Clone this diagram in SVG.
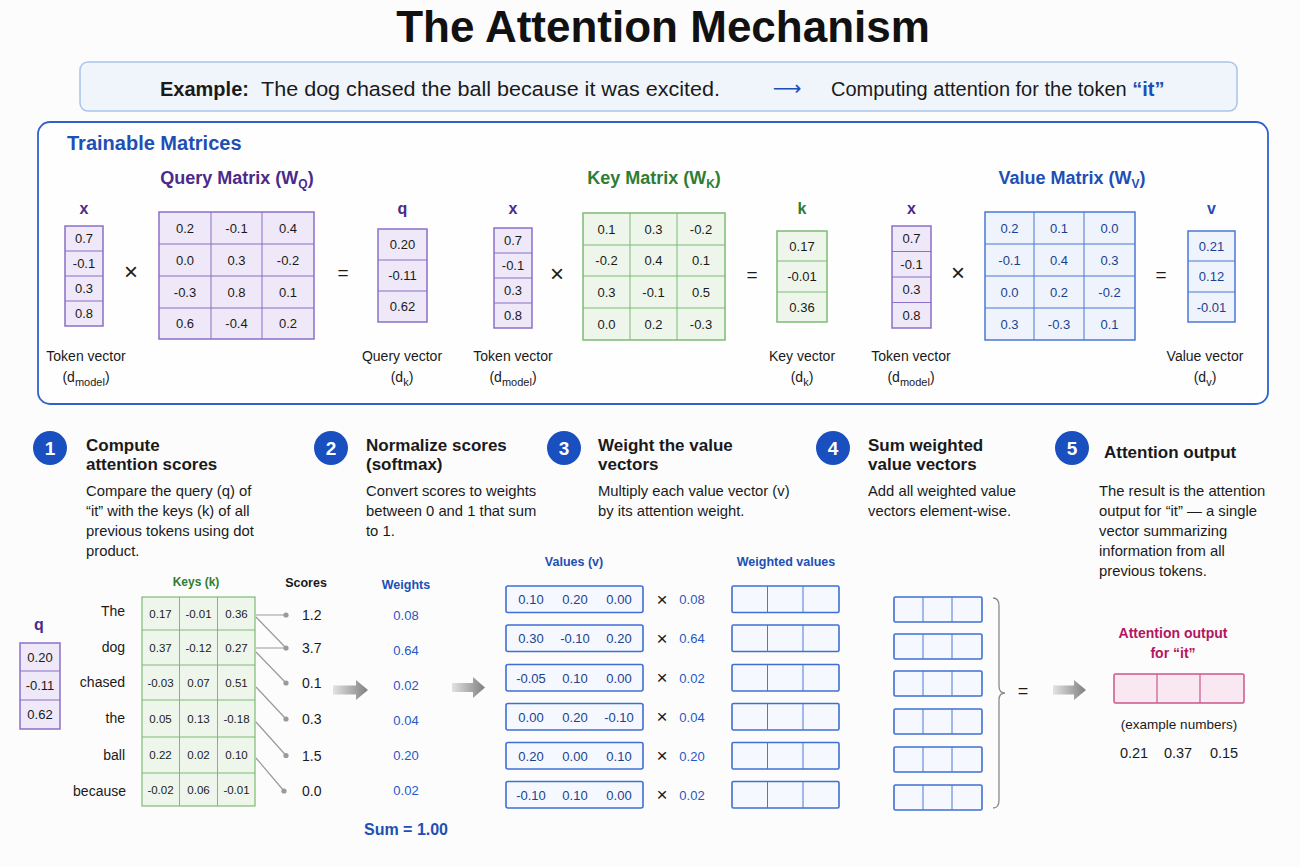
<svg xmlns="http://www.w3.org/2000/svg" width="1300" height="867" viewBox="0 0 1300 867">
<defs>
<linearGradient id="ga" x1="0" y1="0" x2="1" y2="0">
<stop offset="0" stop-color="#e2e2e2"/>
<stop offset="1" stop-color="#7f7f7f"/>
</linearGradient>
</defs>
<style>
text{font-family:"Liberation Sans",Arial,sans-serif;fill:#1a1a1a}
.c{text-anchor:middle}
.num{font-size:13px}
.sm{font-size:11.5px}
.pur{fill:#4b2a8c}
.grn{fill:#2e7d32}
.blu{fill:#1d4fb5}
.mag{fill:#b3165f}
.b{font-weight:bold}
.pbox{fill:#eee8f8;stroke:#8b6fc7;stroke-width:1.5}
.pl{stroke:#8b6fc7;stroke-width:1}
.gbox{fill:#eef6eb;stroke:#7dbb74;stroke-width:1.5}
.gl{stroke:#7dbb74;stroke-width:1}
.bbox{fill:#eef3fc;stroke:#4a78d6;stroke-width:1.5}
.bl{stroke:#4a78d6;stroke-width:1}
.vrow{fill:#f5f8fe;stroke:#3f6fd3;stroke-width:1.6}
.mbox{fill:#f9e8f1;stroke:#c9578b;stroke-width:1.5}
.ml{stroke:#c9578b;stroke-width:1.2}
.lab{font-size:14px}
.op{font-size:19px}
.mul{font-size:24px}
.st{font-size:17px;font-weight:bold}
.ds{font-size:14.8px}
.circ{fill:#1a4fc0}
.cn{fill:#fff;font-size:19px;font-weight:bold;text-anchor:middle}
.wt{fill:#2458c6;font-size:13px}
.conn{stroke:#9a9a9a;stroke-width:1.2;fill:none}
.dot{fill:#9a9a9a}
.vt{fill:#1d3f8f}
</style>
<rect width="1300" height="867" fill="#fcfcfd"/>

<g id="title">
<text x="663" y="42" class="c b" style="font-size:44px;fill:#111">The Attention Mechanism</text>
</g>

<g id="example">
<rect x="80" y="62" width="1157" height="49" rx="8" fill="#f0f5fb" stroke="#a9c3ea" stroke-width="1.5"/>
<text x="160" y="96" style="font-size:20px"><tspan class="b">Example:</tspan></text>
<text x="261" y="96" style="font-size:20.5px" textLength="459" lengthAdjust="spacingAndGlyphs">The dog chased the ball because it was excited.</text>
<text x="787" y="95" class="c" style="font-size:20px;fill:#1d4fb5;font-family:'DejaVu Sans',sans-serif">⟶</text>
<text x="831" y="96" style="font-size:20px">Computing attention for the token <tspan class="b" style="fill:#1d4fb5">“it”</tspan></text>
</g>

<g id="trainable">
<rect x="38" y="122" width="1230" height="282" rx="12" fill="#fefeff" stroke="#2f62d0" stroke-width="1.8"/>
<text x="67" y="150" class="b blu" style="font-size:20px">Trainable Matrices</text>
</g>

<g id="query">
<text x="237" y="184" class="c b pur" style="font-size:18px">Query Matrix (W<tspan dy="4" style="font-size:12px">Q</tspan><tspan dy="-4">)</tspan></text>
<text x="84" y="214" class="c b pur" style="font-size:16px">x</text>
<rect x="65" y="226" width="38" height="100" class="pbox"/>
<line x1="65" y1="251" x2="103" y2="251" class="pl"/><line x1="65" y1="276" x2="103" y2="276" class="pl"/><line x1="65" y1="301" x2="103" y2="301" class="pl"/>
<text x="84" y="243" class="c num">0.7</text><text x="84" y="268" class="c num">-0.1</text><text x="84" y="293" class="c num">0.3</text><text x="84" y="318" class="c num">0.8</text>
<text x="131" y="280" class="c mul">×</text>
<rect x="159" y="212" width="155" height="127" class="pbox"/>
<line x1="211" y1="212" x2="211" y2="339" class="pl"/><line x1="262" y1="212" x2="262" y2="339" class="pl"/>
<line x1="159" y1="244" x2="314" y2="244" class="pl"/><line x1="159" y1="276" x2="314" y2="276" class="pl"/><line x1="159" y1="308" x2="314" y2="308" class="pl"/>
<text x="185" y="232.5" class="c num">0.2</text><text x="236.5" y="232.5" class="c num">-0.1</text><text x="288" y="232.5" class="c num">0.4</text>
<text x="185" y="264.5" class="c num">0.0</text><text x="236.5" y="264.5" class="c num">0.3</text><text x="288" y="264.5" class="c num">-0.2</text>
<text x="185" y="296.5" class="c num">-0.3</text><text x="236.5" y="296.5" class="c num">0.8</text><text x="288" y="296.5" class="c num">0.1</text>
<text x="185" y="328" class="c num">0.6</text><text x="236.5" y="328" class="c num">-0.4</text><text x="288" y="328" class="c num">0.2</text>
<text x="343" y="279" class="c op">=</text>
<text x="402.5" y="214" class="c b pur" style="font-size:16px">q</text>
<rect x="378" y="229" width="49" height="93" class="pbox"/>
<line x1="378" y1="260" x2="427" y2="260" class="pl"/><line x1="378" y1="291" x2="427" y2="291" class="pl"/>
<text x="402.5" y="249" class="c num">0.20</text><text x="402.5" y="280" class="c num">-0.11</text><text x="402.5" y="311" class="c num">0.62</text>
<text x="86" y="361" class="c lab">Token vector</text>
<text x="86" y="382" class="c lab">(d<tspan dy="4" style="font-size:11px">model</tspan><tspan dy="-4">)</tspan></text>
<text x="402" y="361" class="c lab">Query vector</text>
<text x="402" y="382" class="c lab">(d<tspan dy="4" style="font-size:11px">k</tspan><tspan dy="-4">)</tspan></text>
</g>

<g id="key">
<text x="654" y="184" class="c b grn" style="font-size:18px">Key Matrix (W<tspan dy="4" style="font-size:12px">K</tspan><tspan dy="-4">)</tspan></text>
<text x="513" y="214" class="c b pur" style="font-size:16px">x</text>
<rect x="494" y="228" width="38" height="100" class="pbox"/>
<line x1="494" y1="253" x2="532" y2="253" class="pl"/><line x1="494" y1="278" x2="532" y2="278" class="pl"/><line x1="494" y1="303" x2="532" y2="303" class="pl"/>
<text x="513" y="245" class="c num">0.7</text><text x="513" y="270" class="c num">-0.1</text><text x="513" y="295" class="c num">0.3</text><text x="513" y="320" class="c num">0.8</text>
<text x="557" y="282" class="c mul">×</text>
<rect x="583" y="213" width="142" height="127" class="gbox"/>
<line x1="630" y1="213" x2="630" y2="340" class="gl"/><line x1="677" y1="213" x2="677" y2="340" class="gl"/>
<line x1="583" y1="245" x2="725" y2="245" class="gl"/><line x1="583" y1="276" x2="725" y2="276" class="gl"/><line x1="583" y1="308" x2="725" y2="308" class="gl"/>
<text x="606.5" y="233.5" class="c num">0.1</text><text x="653.5" y="233.5" class="c num">0.3</text><text x="701" y="233.5" class="c num">-0.2</text>
<text x="606.5" y="265" class="c num">-0.2</text><text x="653.5" y="265" class="c num">0.4</text><text x="701" y="265" class="c num">0.1</text>
<text x="606.5" y="296.5" class="c num">0.3</text><text x="653.5" y="296.5" class="c num">-0.1</text><text x="701" y="296.5" class="c num">0.5</text>
<text x="606.5" y="328.5" class="c num">0.0</text><text x="653.5" y="328.5" class="c num">0.2</text><text x="701" y="328.5" class="c num">-0.3</text>
<text x="752" y="281" class="c op">=</text>
<text x="802" y="214" class="c b grn" style="font-size:16px">k</text>
<rect x="777" y="231" width="50" height="91" class="gbox"/>
<line x1="777" y1="261" x2="827" y2="261" class="gl"/><line x1="777" y1="292" x2="827" y2="292" class="gl"/>
<text x="802" y="250.5" class="c num">0.17</text><text x="802" y="281" class="c num">-0.01</text><text x="802" y="311.5" class="c num">0.36</text>
<text x="513" y="361" class="c lab">Token vector</text>
<text x="513" y="382" class="c lab">(d<tspan dy="4" style="font-size:11px">model</tspan><tspan dy="-4">)</tspan></text>
<text x="802" y="361" class="c lab">Key vector</text>
<text x="802" y="382" class="c lab">(d<tspan dy="4" style="font-size:11px">k</tspan><tspan dy="-4">)</tspan></text>
</g>

<g id="value">
<text x="1072" y="184" class="c b blu" style="font-size:18px">Value Matrix (W<tspan dy="4" style="font-size:12px">V</tspan><tspan dy="-4">)</tspan></text>
<text x="911.5" y="214" class="c b pur" style="font-size:16px">x</text>
<rect x="892" y="226" width="39" height="102" class="pbox"/>
<line x1="892" y1="251.5" x2="931" y2="251.5" class="pl"/><line x1="892" y1="277" x2="931" y2="277" class="pl"/><line x1="892" y1="302.5" x2="931" y2="302.5" class="pl"/>
<text x="911.5" y="243" class="c num">0.7</text><text x="911.5" y="268.5" class="c num">-0.1</text><text x="911.5" y="294" class="c num">0.3</text><text x="911.5" y="319.5" class="c num">0.8</text>
<text x="958" y="281" class="c mul">×</text>
<rect x="985" y="212" width="150" height="128" class="bbox"/>
<line x1="1034" y1="212" x2="1034" y2="340" class="bl"/><line x1="1084" y1="212" x2="1084" y2="340" class="bl"/>
<line x1="985" y1="244" x2="1135" y2="244" class="bl"/><line x1="985" y1="276" x2="1135" y2="276" class="bl"/><line x1="985" y1="308" x2="1135" y2="308" class="bl"/>
<text x="1009.5" y="232.5" class="c num vt">0.2</text><text x="1059" y="232.5" class="c num vt">0.1</text><text x="1109.5" y="232.5" class="c num vt">0.0</text>
<text x="1009.5" y="264.5" class="c num vt">-0.1</text><text x="1059" y="264.5" class="c num vt">0.4</text><text x="1109.5" y="264.5" class="c num vt">0.3</text>
<text x="1009.5" y="296.5" class="c num vt">0.0</text><text x="1059" y="296.5" class="c num vt">0.2</text><text x="1109.5" y="296.5" class="c num vt">-0.2</text>
<text x="1009.5" y="328.5" class="c num vt">0.3</text><text x="1059" y="328.5" class="c num vt">-0.3</text><text x="1109.5" y="328.5" class="c num vt">0.1</text>
<text x="1161" y="281" class="c op">=</text>
<text x="1211.5" y="214" class="c b blu" style="font-size:16px">v</text>
<rect x="1188" y="231" width="47" height="91" class="bbox"/>
<line x1="1188" y1="261" x2="1235" y2="261" class="bl"/><line x1="1188" y1="292" x2="1235" y2="292" class="bl"/>
<text x="1211.5" y="250.5" class="c num vt">0.21</text><text x="1211.5" y="281" class="c num vt">0.12</text><text x="1211.5" y="311.5" class="c num vt">-0.01</text>
<text x="911" y="361" class="c lab">Token vector</text>
<text x="911" y="382" class="c lab">(d<tspan dy="4" style="font-size:11px">model</tspan><tspan dy="-4">)</tspan></text>
<text x="1205" y="361" class="c lab">Value vector</text>
<text x="1205" y="382" class="c lab">(d<tspan dy="4" style="font-size:11px">v</tspan><tspan dy="-4">)</tspan></text>
</g>

<g id="step1">
<circle cx="50" cy="448" r="17" class="circ"/><text x="50" y="455" class="cn">1</text>
<text x="86" y="451" class="st">Compute</text>
<text x="86" y="470" class="st">attention scores</text>
<text x="86" y="496" class="ds">Compare the query (q) of</text>
<text x="86" y="516" class="ds">“it” with the keys (k) of all</text>
<text x="86" y="536" class="ds">previous tokens using dot</text>
<text x="86" y="556" class="ds">product.</text>
</g>

<g id="step2">
<circle cx="331" cy="448" r="17" class="circ"/><text x="331" y="455" class="cn">2</text>
<text x="366" y="451" class="st">Normalize scores</text>
<text x="366" y="470" class="st">(softmax)</text>
<text x="366" y="496" class="ds">Convert scores to weights</text>
<text x="366" y="516" class="ds">between 0 and 1 that sum</text>
<text x="366" y="536" class="ds">to 1.</text>
</g>

<g id="step3">
<circle cx="564" cy="448" r="17" class="circ"/><text x="564" y="455" class="cn">3</text>
<text x="598" y="451" class="st">Weight the value</text>
<text x="598" y="470" class="st">vectors</text>
<text x="598" y="496" class="ds">Multiply each value vector (v)</text>
<text x="598" y="516" class="ds">by its attention weight.</text>
</g>

<g id="step4">
<circle cx="833" cy="448" r="17" class="circ"/><text x="833" y="455" class="cn">4</text>
<text x="868" y="451" class="st">Sum weighted</text>
<text x="868" y="470" class="st">value vectors</text>
<text x="868" y="496" class="ds">Add all weighted value</text>
<text x="868" y="516" class="ds">vectors element-wise.</text>
</g>

<g id="step5">
<circle cx="1072" cy="448" r="17" class="circ"/><text x="1072" y="455" class="cn">5</text>
<text x="1104" y="458" class="st">Attention output</text>
<text x="1099" y="496" class="ds">The result is the attention</text>
<text x="1099" y="516" class="ds">output for “it” — a single</text>
<text x="1099" y="536" class="ds">vector summarizing</text>
<text x="1099" y="556" class="ds">information from all</text>
<text x="1099" y="576" class="ds">previous tokens.</text>
</g>

<g id="query-vector">
<text x="39" y="630" class="c b pur" style="font-size:16px">q</text>
<rect x="20" y="643" width="40" height="86" class="pbox"/>
<line x1="20" y1="671" x2="60" y2="671" class="pl"/><line x1="20" y1="700" x2="60" y2="700" class="pl"/>
<text x="40" y="661.5" class="c num">0.20</text><text x="40" y="690" class="c num">-0.11</text><text x="40" y="718.5" class="c num">0.62</text>
</g>

<g id="keys-table">
<text x="196" y="586" class="c b grn" style="font-size:12px">Keys (k)</text>
<rect x="142" y="597" width="113" height="209" class="gbox" style="stroke-width:1.2"/>
<line x1="179.5" y1="597" x2="179.5" y2="806" class="gl"/><line x1="217.5" y1="597" x2="217.5" y2="806" class="gl"/>
<line x1="142" y1="630" x2="255" y2="630" class="gl"/><line x1="142" y1="665" x2="255" y2="665" class="gl"/><line x1="142" y1="700" x2="255" y2="700" class="gl"/><line x1="142" y1="737" x2="255" y2="737" class="gl"/><line x1="142" y1="773" x2="255" y2="773" class="gl"/>
<text x="160.5" y="617.5" class="c sm">0.17</text><text x="198.5" y="617.5" class="c sm">-0.01</text><text x="236.5" y="617.5" class="c sm">0.36</text>
<text x="160.5" y="651.5" class="c sm">0.37</text><text x="198.5" y="651.5" class="c sm">-0.12</text><text x="236.5" y="651.5" class="c sm">0.27</text>
<text x="160.5" y="686.5" class="c sm">-0.03</text><text x="198.5" y="686.5" class="c sm">0.07</text><text x="236.5" y="686.5" class="c sm">0.51</text>
<text x="160.5" y="722.5" class="c sm">0.05</text><text x="198.5" y="722.5" class="c sm">0.13</text><text x="236.5" y="722.5" class="c sm">-0.18</text>
<text x="160.5" y="759" class="c sm">0.22</text><text x="198.5" y="759" class="c sm">0.02</text><text x="236.5" y="759" class="c sm">0.10</text>
<text x="160.5" y="793.5" class="c sm">-0.02</text><text x="198.5" y="793.5" class="c sm">0.06</text><text x="236.5" y="793.5" class="c sm">-0.01</text>
<g style="font-size:14px;text-anchor:end">
<text x="125" y="616">The</text><text x="125" y="651.5">dog</text><text x="125" y="687">chased</text><text x="125" y="723">the</text><text x="125" y="760">ball</text><text x="126" y="796">because</text>
</g>
</g>

<g id="scores">
<text x="306" y="587" class="c b" style="font-size:12.5px">Scores</text>
<circle cx="286" cy="615" r="2.6" class="dot"/><circle cx="286" cy="648" r="2.6" class="dot"/><circle cx="286" cy="683" r="2.6" class="dot"/><circle cx="286" cy="719" r="2.6" class="dot"/><circle cx="286" cy="755.5" r="2.6" class="dot"/><circle cx="284" cy="791" r="2.6" class="dot"/>
<g style="font-size:14px">
<text x="302" y="620">1.2</text><text x="302" y="652.5">3.7</text><text x="302" y="688">0.1</text><text x="302" y="724">0.3</text><text x="302" y="760.5">1.5</text><text x="302" y="796">0.0</text>
</g>
</g>

<g id="weights">
<text x="406" y="589" class="c b" style="font-size:12.5px;fill:#1d4fb5">Weights</text>
<text x="406" y="620" class="c wt">0.08</text><text x="406" y="655" class="c wt">0.64</text><text x="406" y="690" class="c wt">0.02</text><text x="406" y="724.5" class="c wt">0.04</text><text x="406" y="759.5" class="c wt">0.20</text><text x="406" y="794.5" class="c wt">0.02</text>
<text x="406" y="835" class="c b" style="font-size:16px;fill:#1d4fb5">Sum = 1.00</text>
</g>

<g id="values">
<text x="574" y="566" class="c b" style="font-size:12.5px;fill:#1d4fb5">Values (v)</text>
<text x="786" y="566" class="c b" style="font-size:12.5px;fill:#1d4fb5">Weighted values</text>
<g style="font-size:13px">
<rect x="506" y="586" width="137" height="26.5" rx="2" class="vrow"/>
<text x="531" y="604" class="c vt">0.10</text><text x="575" y="604" class="c vt">0.20</text><text x="619" y="604" class="c vt">0.00</text>
<rect x="506" y="625" width="137" height="26.5" rx="2" class="vrow"/>
<text x="531" y="643" class="c vt">0.30</text><text x="575" y="643" class="c vt">-0.10</text><text x="619" y="643" class="c vt">0.20</text>
<rect x="506" y="664.5" width="137" height="26.5" rx="2" class="vrow"/>
<text x="531" y="682.5" class="c vt">-0.05</text><text x="575" y="682.5" class="c vt">0.10</text><text x="619" y="682.5" class="c vt">0.00</text>
<rect x="506" y="703.5" width="137" height="26.5" rx="2" class="vrow"/>
<text x="531" y="721.5" class="c vt">0.00</text><text x="575" y="721.5" class="c vt">0.20</text><text x="619" y="721.5" class="c vt">-0.10</text>
<rect x="506" y="742.5" width="137" height="26.5" rx="2" class="vrow"/>
<text x="531" y="760.5" class="c vt">0.20</text><text x="575" y="760.5" class="c vt">0.00</text><text x="619" y="760.5" class="c vt">0.10</text>
<rect x="506" y="781.5" width="137" height="26.5" rx="2" class="vrow"/>
<text x="531" y="799.5" class="c vt">-0.10</text><text x="575" y="799.5" class="c vt">0.10</text><text x="619" y="799.5" class="c vt">0.00</text>
</g>
<g style="font-size:19px">
<text x="662" y="605.5" class="c">×</text><text x="662" y="644.5" class="c">×</text><text x="662" y="684" class="c">×</text><text x="662" y="723" class="c">×</text><text x="662" y="762" class="c">×</text><text x="662" y="801" class="c">×</text>
</g>
<text x="692" y="604" class="c wt">0.08</text><text x="692" y="643" class="c wt">0.64</text><text x="692" y="682.5" class="c wt">0.02</text><text x="692" y="721.5" class="c wt">0.04</text><text x="692" y="760.5" class="c wt">0.20</text><text x="692" y="799.5" class="c wt">0.02</text>
</g>

<g id="weighted-values">
<rect x="732" y="586" width="107" height="26.5" rx="1.5" class="vrow"/><line x1="767.5" y1="586" x2="767.5" y2="612.5" class="bl"/><line x1="803" y1="586" x2="803" y2="612.5" class="bl"/>
<rect x="732" y="625" width="107" height="26.5" rx="1.5" class="vrow"/><line x1="767.5" y1="625" x2="767.5" y2="651.5" class="bl"/><line x1="803" y1="625" x2="803" y2="651.5" class="bl"/>
<rect x="732" y="664.5" width="107" height="26.5" rx="1.5" class="vrow"/><line x1="767.5" y1="664.5" x2="767.5" y2="691" class="bl"/><line x1="803" y1="664.5" x2="803" y2="691" class="bl"/>
<rect x="732" y="703.5" width="107" height="26.5" rx="1.5" class="vrow"/><line x1="767.5" y1="703.5" x2="767.5" y2="730" class="bl"/><line x1="803" y1="703.5" x2="803" y2="730" class="bl"/>
<rect x="732" y="742.5" width="107" height="26.5" rx="1.5" class="vrow"/><line x1="767.5" y1="742.5" x2="767.5" y2="769" class="bl"/><line x1="803" y1="742.5" x2="803" y2="769" class="bl"/>
<rect x="732" y="781.5" width="107" height="26.5" rx="1.5" class="vrow"/><line x1="767.5" y1="781.5" x2="767.5" y2="808" class="bl"/><line x1="803" y1="781.5" x2="803" y2="808" class="bl"/>
</g>

<g id="sum-vectors">
<rect x="894" y="597" width="88" height="25" rx="1.5" class="vrow"/><line x1="923" y1="597" x2="923" y2="622" class="bl"/><line x1="952" y1="597" x2="952" y2="622" class="bl"/>
<rect x="894" y="634" width="88" height="25" rx="1.5" class="vrow"/><line x1="923" y1="634" x2="923" y2="659" class="bl"/><line x1="952" y1="634" x2="952" y2="659" class="bl"/>
<rect x="894" y="671" width="88" height="25" rx="1.5" class="vrow"/><line x1="923" y1="671" x2="923" y2="696" class="bl"/><line x1="952" y1="671" x2="952" y2="696" class="bl"/>
<rect x="894" y="709" width="88" height="25" rx="1.5" class="vrow"/><line x1="923" y1="709" x2="923" y2="734" class="bl"/><line x1="952" y1="709" x2="952" y2="734" class="bl"/>
<rect x="894" y="747" width="88" height="25" rx="1.5" class="vrow"/><line x1="923" y1="747" x2="923" y2="772" class="bl"/><line x1="952" y1="747" x2="952" y2="772" class="bl"/>
<rect x="894" y="785" width="88" height="25" rx="1.5" class="vrow"/><line x1="923" y1="785" x2="923" y2="810" class="bl"/><line x1="952" y1="785" x2="952" y2="810" class="bl"/>
<path d="M993 598 Q999 598 999 606 L999 686 Q999 693 1005 693 Q999 693 999 700 L999 800 Q999 808 993 808" fill="none" stroke="#8a8a8a" stroke-width="1.3"/>
<text x="1023" y="697" class="c" style="font-size:18px">=</text>
</g>

<g id="output">
<text x="1173" y="638" class="c b mag" style="font-size:14px">Attention output</text>
<text x="1173" y="658" class="c b mag" style="font-size:14px">for “it”</text>
<rect x="1114" y="674" width="130" height="29" rx="1.5" class="mbox"/>
<line x1="1157" y1="674" x2="1157" y2="703" class="ml"/><line x1="1200" y1="674" x2="1200" y2="703" class="ml"/>
<text x="1179" y="729" class="c" style="font-size:13.5px">(example numbers)</text>
<text x="1134" y="758" class="c" style="font-size:14.5px">0.21</text><text x="1178" y="758" class="c" style="font-size:14.5px">0.37</text><text x="1224" y="758" class="c" style="font-size:14.5px">0.15</text>
</g>

<g id="connectors">
<path d="M256 615 H286 M256 617 L286 648 M256 648 H286 M256 652 L286 683 M256 687 L286 719 M256 722 L286 755.5 M256 758 L284 791" class="conn"/>
<polygon points="333,685.5 356,685.5 356,680 368,690 356,700 356,694.5 333,694.5" fill="url(#ga)"/>
<polygon points="452,683 473,683 473,677 485,687.5 473,698 473,692 452,692" fill="url(#ga)"/>
<polygon points="1053,685.5 1074,685.5 1074,680 1086,690 1074,700 1074,694.5 1053,694.5" fill="url(#ga)"/>
</g>
</svg>
